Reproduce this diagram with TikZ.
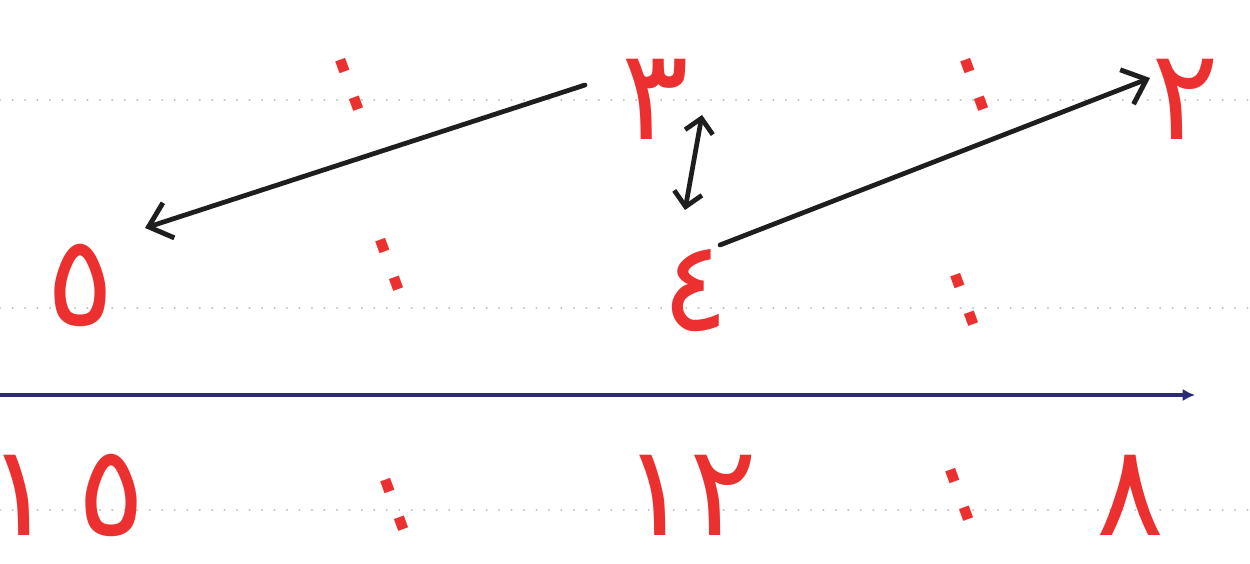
\documentclass[tikz,border=0pt]{standalone}
\usepackage{fontspec}
\newfontfamily\arabicfont[Script=Arabic]{DejaVu Sans}
\usetikzlibrary{arrows.meta}
\definecolor{inkred}{RGB}{236,48,48}
\definecolor{navyline}{RGB}{42,42,118}
\definecolor{guidegrey}{RGB}{195,195,195}
\definecolor{penblack}{RGB}{30,30,30}
\begin{document}
\begin{tikzpicture}[x=0.02cm,y=-0.02cm,
  num/.style={text=inkred,font=\arabicfont\fontsize{72}{80}\selectfont,inner sep=0pt,anchor=base},
  sep/.style={text=inkred,font=\arabicfont\fontsize{58}{66}\selectfont,inner sep=0pt,rotate=20},
  guide/.style={guidegrey,line width=1.3pt,line cap=round,dash pattern=on 0.1pt off 7pt},
  arr/.style={penblack,line width=2.7pt,line cap=round,
     -{Straight Barb[length=12pt,width=21pt,line width=2.8pt]}},
  dblarr/.style={penblack,line width=2.7pt,line cap=round,
     {Straight Barb[length=8pt,width=16pt,line width=2.7pt]}-{Straight Barb[length=8pt,width=16pt,line width=2.7pt]}}]
\useasboundingbox (0,0) rectangle (1250,564);
\fill[white] (0,0) rectangle (1250,564);

% guide lines
\draw[guide] (0,100) -- (1250,100);
\draw[guide] (0,308) -- (1250,308);
\draw[guide] (0,510) -- (1250,510);

% blue rule
\coordinate (ruleL) at (0,395);
\coordinate (ruleR) at (1195,395);
\draw[navyline,line width=2.7pt,-{Latex[length=7pt,width=7pt]}] (ruleL) -- (ruleR);

% top row
\node[num] (three) at (655,140) {٣};
\node[num] (two) at (1185,140) {٢};
\node[sep] (c1) at (350,85) {:};
\node[sep] (c2) at (975,85) {:};

% middle row
\node[num] (five) at (80,325) {٥};
\node[num] (four) at (695,330) {٤};
\node[sep] (c3) at (390,265) {:};
\node[sep] (c4) at (965,300) {:};

% bottom row
\node[num] (fifteen) at (66,535) {١\kern13pt ٥};
\node[num] (twelve) at (690,535) {١٢};
\node[num] (eight) at (1130,535) {٨};
\node[sep] (c5) at (395,505) {:};
\node[sep] (c6) at (960,495) {:};

% arrows
\draw[arr] ([shift={(-70,-55)}]three.base) -- ([shift={(65,-97)}]five.base);
\draw[arr] ([shift={(25,-85)}]four.base) -- ([shift={(-35,-62)}]two.base);
\draw[dblarr] ([shift={(47,-25)}]three.base) -- ([shift={(-10,-120)}]four.base);
\end{tikzpicture}
\end{document}
